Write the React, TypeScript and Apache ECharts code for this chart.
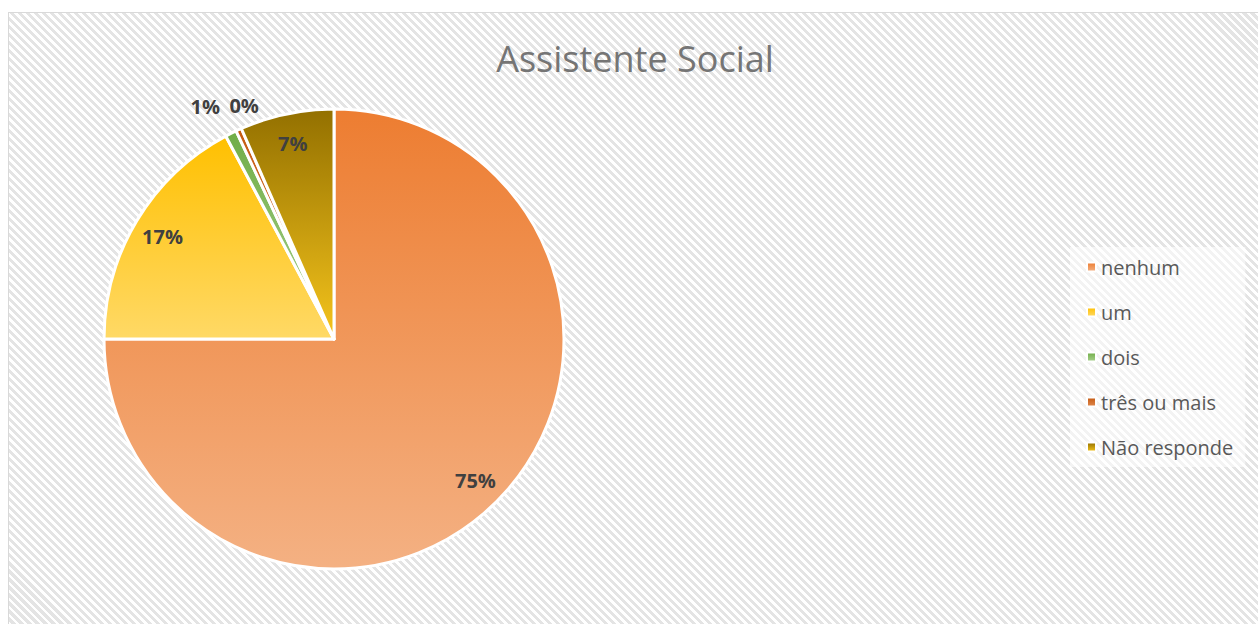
import React, { useEffect, useRef } from "react";
import * as echarts from "echarts";

const categories = ["nenhum", "um", "dois", "três ou mais", "Não responde"];
const values = [75.0, 17.2, 0.8, 0.4, 6.6];
const topColors = ["#ED7D31", "#FFC000", "#70AD47", "#C55A11", "#937000"];
const bottomColors = ["#F4B183", "#FFD966", "#A9D18E", "#E08A50", "#F5C41C"];
const titleText = "Assistente Social";

const FONT = "'Open Sans', 'Noto Sans', sans-serif";

export default function App() {
  const ref = useRef<HTMLDivElement>(null);

  useEffect(() => {
    if (!ref.current) return;
    const chart = echarts.init(ref.current, undefined, { renderer: "svg" });
    const center = [325, 326];
    const mainData = categories.map((name, i) => ({
      name,
      value: values[i],
      itemStyle: {
        color: new echarts.graphic.LinearGradient(0, 0, 0, 1, [
          { offset: 0, color: topColors[i] },
          { offset: 1, color: bottomColors[i] },
        ]),
      },
    }));
    const labelData = categories.map((name, i) => ({ name, value: values[i] }));
    const labelShift: Record<number, { dx: number; dy: number }> = {
      2: { dx: -39, dy: -54 },
      3: { dx: -7, dy: -51 },
    };
    chart.setOption({
      animation: false,
      title: {
        text: titleText,
        left: "center",
        top: 27,
        padding: 0,
        textStyle: {
          fontFamily: FONT,
          fontSize: 36,
          fontWeight: "normal",
          color: "#757575",
        },
      },
      legend: {
        orient: "vertical",
        left: 1061,
        top: 234,
        data: categories,
        icon: "rect",
        itemWidth: 9,
        itemHeight: 9,
        itemGap: 25,
        padding: [10, 12, 10, 16],
        backgroundColor: "rgba(255,255,255,0.55)",
        selectedMode: false,
        textStyle: {
          fontFamily: FONT,
          fontSize: 20,
          lineHeight: 20,
          color: "#595959",
        },
      },
      series: [
        {
          name: "main",
          type: "pie",
          center,
          radius: [0, 230],
          startAngle: 90,
          clockwise: true,
          avoidLabelOverlap: false,
          label: { show: false },
          labelLine: { show: false },
          emphasis: { disabled: true },
          itemStyle: { borderColor: "#ffffff", borderWidth: 3 },
          data: mainData,
        },
        {
          name: "labels",
          type: "pie",
          center,
          radius: [164, 230],
          startAngle: 90,
          clockwise: true,
          silent: true,
          avoidLabelOverlap: false,
          emphasis: { disabled: true },
          itemStyle: { color: "rgba(0,0,0,0)", borderWidth: 0 },
          labelLine: { show: false },
          label: {
            show: true,
            position: "inside",
            formatter: (p: any) => Math.round(p.percent) + "%",
            fontFamily: FONT,
            fontSize: 20,
            fontWeight: "bold",
            color: "#404040",
          },
          labelLayout: (params: any) => labelShift[params.dataIndex] || {},
          data: labelData,
        },
      ],
    });
    return () => chart.dispose();
  }, []);

  return (
    <div
      style={{
        position: "fixed",
        left: 8,
        top: 12,
        width: 1262,
        height: 620,
        border: "1px solid #D9D9D9",
        background:
          "repeating-linear-gradient(45deg, #ffffff 0px, #ffffff 2.8px, #e4e4e4 2.8px, #e4e4e4 5.66px)",
      }}
    >
      <div ref={ref} style={{ width: 1252, height: 612 }} />
    </div>
  );
}
